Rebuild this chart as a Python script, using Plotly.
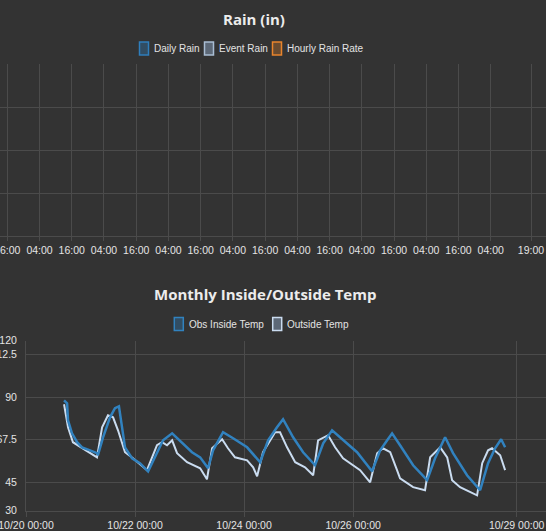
import plotly.graph_objects as go

# ---------------- data ----------------
rain_series = ["Daily Rain", "Event Rain", "Hourly Rain Rate"]
temp_series = ["Obs Inside Temp", "Outside Temp"]

rain_tick_times = [
    "2023-10-20 16:00", "2023-10-21 04:00", "2023-10-21 16:00", "2023-10-22 04:00",
    "2023-10-22 16:00", "2023-10-23 04:00", "2023-10-23 16:00", "2023-10-24 04:00",
    "2023-10-24 16:00", "2023-10-25 04:00", "2023-10-25 16:00", "2023-10-26 04:00",
    "2023-10-26 16:00", "2023-10-27 04:00", "2023-10-27 16:00", "2023-10-28 04:00",
    "2023-10-28 19:00",
]
rain_tick_labels = ["16:00", "04:00", "16:00", "04:00", "16:00", "04:00", "16:00", "04:00",
                    "16:00", "04:00", "16:00", "04:00", "16:00", "04:00", "16:00", "04:00",
                    "19:00"]

temp_tick_times = ["2023-10-20 00:00", "2023-10-22 00:00", "2023-10-24 00:00",
                   "2023-10-26 00:00", "2023-10-29 00:00"]
temp_tick_labels = ["10/20 00:00", "10/22 00:00", "10/24 00:00", "10/26 00:00", "10/29 00:00"]
temp_y_ticks = [30, 45, 67.5, 90, 112.5, 120]
temp_y_labels = ["30", "45", "67.5", "90", "112.5", "120"]

inside_time = [
    "2023-10-20 16:45", "2023-10-20 18:05", "2023-10-20 18:30", "2023-10-20 20:15", "2023-10-20 22:30",
    "2023-10-21 00:40", "2023-10-21 04:10", "2023-10-21 07:15", "2023-10-21 07:40", "2023-10-21 09:55",
    "2023-10-21 13:00", "2023-10-21 15:10", "2023-10-21 16:55", "2023-10-21 17:50", "2023-10-21 19:35",
    "2023-10-21 22:40", "2023-10-22 02:10", "2023-10-22 05:45", "2023-10-22 08:50", "2023-10-22 12:20",
    "2023-10-22 16:20", "2023-10-22 19:50", "2023-10-23 01:05", "2023-10-23 04:40", "2023-10-23 08:10",
    "2023-10-23 10:20", "2023-10-23 13:25", "2023-10-23 14:45", "2023-10-23 19:10", "2023-10-24 01:20",
    "2023-10-24 07:05", "2023-10-24 10:35", "2023-10-24 14:30", "2023-10-24 17:10", "2023-10-24 21:35",
    "2023-10-25 02:00", "2023-10-25 07:15", "2023-10-25 10:50", "2023-10-25 14:45", "2023-10-25 19:35",
    "2023-10-26 01:45", "2023-10-26 08:20", "2023-10-26 11:55", "2023-10-26 15:00", "2023-10-26 17:10",
    "2023-10-26 20:40", "2023-10-27 02:25", "2023-10-27 08:35", "2023-10-27 12:05", "2023-10-27 16:30",
    "2023-10-27 20:00", "2023-10-28 02:10", "2023-10-28 07:55", "2023-10-28 11:25", "2023-10-28 14:30",
    "2023-10-28 17:10", "2023-10-28 18:55",
]
inside_temp = [
    88.4, 86.8, 77.8, 70.9, 66.2, 63.5, 61.9, 60.4, 59.3, 68.8,
    79.4, 84.2, 85.2, 77.8, 63.5, 57.7, 55.1, 50.8, 58.2, 67.2,
    70.9, 66.7, 60.9, 58.2, 52.4, 61.9, 68.8, 71.5, 68.3, 63.5,
    55.6, 67.2, 74.1, 78.4, 68.8, 60.9, 54.0, 65.6, 72.5, 67.2,
    60.9, 50.8, 61.9, 67.2, 70.9, 64.6, 54.0, 46.1, 57.7, 68.8,
    60.4, 48.7, 40.8, 55.1, 63.0, 67.8, 63.5,
]

outside_time = [
    "2023-10-20 16:45", "2023-10-20 18:30", "2023-10-20 20:40", "2023-10-21 01:05", "2023-10-21 04:10",
    "2023-10-21 07:15", "2023-10-21 09:30", "2023-10-21 12:05", "2023-10-21 14:20", "2023-10-21 16:30",
    "2023-10-21 19:35", "2023-10-21 23:05", "2023-10-22 05:15", "2023-10-22 09:40", "2023-10-22 11:55",
    "2023-10-22 14:05", "2023-10-22 16:20", "2023-10-22 18:30", "2023-10-22 22:55", "2023-10-23 04:40",
    "2023-10-23 07:40", "2023-10-23 09:55", "2023-10-23 14:20", "2023-10-23 16:55", "2023-10-23 20:00",
    "2023-10-24 01:20", "2023-10-24 04:00", "2023-10-24 05:45", "2023-10-24 08:20", "2023-10-24 13:40",
    "2023-10-24 15:50", "2023-10-24 18:55", "2023-10-24 22:30", "2023-10-25 02:50", "2023-10-25 06:25",
    "2023-10-25 08:35", "2023-10-25 13:00", "2023-10-25 16:05", "2023-10-25 19:35", "2023-10-26 03:05",
    "2023-10-26 07:30", "2023-10-26 10:35", "2023-10-26 13:10", "2023-10-26 16:20", "2023-10-26 19:20",
    "2023-10-26 20:40", "2023-10-27 02:25", "2023-10-27 07:40", "2023-10-27 09:55", "2023-10-27 14:20",
    "2023-10-27 17:25", "2023-10-27 19:35", "2023-10-27 23:05", "2023-10-28 06:35", "2023-10-28 08:50",
    "2023-10-28 11:25", "2023-10-28 13:10", "2023-10-28 16:45", "2023-10-28 18:55",
]
outside_temp = [
    86.3, 74.1, 66.2, 63.0, 60.9, 58.2, 74.1, 80.5, 79.4, 72.5,
    60.9, 57.7, 51.4, 64.6, 66.2, 64.6, 67.2, 60.4, 55.6, 52.4,
    46.6, 63.0, 67.8, 63.0, 58.2, 56.6, 52.9, 48.2, 60.9, 71.5,
    71.5, 63.5, 55.6, 52.9, 48.7, 67.2, 69.9, 63.5, 57.7, 51.4,
    45.0, 60.4, 63.0, 60.9, 51.4, 47.1, 42.4, 40.8, 58.2, 63.5,
    58.2, 46.1, 42.4, 38.1, 55.1, 61.9, 63.0, 59.3, 51.4,
]

# ---------------- style ----------------
W, H = 546, 531
BG = "#333333"
GRID = "#4b4b4b"
TXT = "#e4e4e4"
TITLE = "#ececec"
FONT = "Liberation Sans, Arial, sans-serif"
TICKFONT = dict(family=FONT, size=10.5, color=TXT)

def px(x):
    return x / W

def py(y):
    return 1 - y / H

rain_line = ["#2f7ebc", "#a9bdd3", "#e8842c"]
rain_fill = ["rgba(47,126,188,0.35)", "rgba(120,140,165,0.6)", "rgba(232,132,44,0.3)"]
temp_line = ["#3182bf", "#cadcf0"]
temp_fill = ["rgba(47,126,188,0.35)", "rgba(120,140,165,0.6)"]

fig = go.Figure()

# rain chart (no data in the period)
for name, col in zip(rain_series, rain_line):
    fig.add_trace(go.Scatter(x=[], y=[], name=name, mode="lines",
                             line=dict(color=col), xaxis="x", yaxis="y", showlegend=False))

# temperature chart
fig.add_trace(go.Scatter(x=outside_time, y=outside_temp, name=temp_series[1], mode="lines",
                         line=dict(color=temp_line[1], width=2), xaxis="x2", yaxis="y2",
                         showlegend=False))
fig.add_trace(go.Scatter(x=inside_time, y=inside_temp, name=temp_series[0], mode="lines",
                         line=dict(color=temp_line[0], width=2.5), xaxis="x2", yaxis="y2",
                         showlegend=False))

shapes = []
annotations = []

def legend(names, lines, fills, box_x, text_x, yc):
    for n, lc, fc, bx, tx in zip(names, lines, fills, box_x, text_x):
        shapes.append(dict(type="rect", xref="paper", yref="paper",
                           x0=px(bx), x1=px(bx + 9), y0=py(yc + 6.5), y1=py(yc - 6.5),
                           line=dict(color=lc, width=1.5), fillcolor=fc, layer="above"))
        annotations.append(dict(text=n, xref="paper", yref="paper", x=px(tx), y=py(yc),
                                xanchor="left", yanchor="middle", showarrow=False,
                                font=dict(family=FONT, size=10, color=TXT)))

legend(rain_series, rain_line, rain_fill, [139.5, 204.5, 272.5], [151.5, 216.5, 284.5], 48.5)
legend(temp_series, temp_line, temp_fill, [174.3, 272.7], [186.5, 284.5], 324)

annotations.append(dict(text="<b>Rain (in)</b>", xref="paper", yref="paper", x=px(253.5), y=py(18.5),
                        xanchor="center", yanchor="middle", showarrow=False,
                        font=dict(family="Open Sans, sans-serif", size=15, color=TITLE)))
annotations.append(dict(text="<b>Monthly Inside/Outside Temp</b>", xref="paper", yref="paper",
                        x=px(265), y=py(294), xanchor="center", yanchor="middle", showarrow=False,
                        font=dict(family="Open Sans, sans-serif", size=15, color=TITLE)))

fig.update_layout(
    width=W, height=H, paper_bgcolor=BG, plot_bgcolor=BG,
    margin=dict(l=0, r=0, t=0, b=0), showlegend=False,
    shapes=shapes, annotations=annotations,
    xaxis=dict(type="date", domain=[0, 1], anchor="y",
               range=["2023-10-20 13:17", "2023-10-29 00:35"],
               tickmode="array", tickvals=rain_tick_times, ticktext=rain_tick_labels,
               tickangle=0, showgrid=True, gridcolor=GRID, gridwidth=1,
               ticks="outside", ticklen=4, tickcolor=GRID, showline=True, linecolor=GRID,
               tickfont=TICKFONT, zeroline=False, automargin=False, ticklabeloverflow="allow"),
    yaxis=dict(domain=[py(236), py(64)], anchor="x", range=[0, 1], tickmode="linear",
               tick0=0, dtick=0.25, showticklabels=False, showgrid=True, gridcolor=GRID,
               zeroline=False, showline=False, automargin=False),
    xaxis2=dict(type="date", domain=[px(26), 1], anchor="y2",
                range=["2023-10-20 00:00", "2023-10-29 12:55"],
                tickmode="array", tickvals=temp_tick_times, ticktext=temp_tick_labels,
                tickangle=0, showgrid=True, gridcolor=GRID, gridwidth=1,
                ticks="outside", ticklen=5, tickcolor=GRID, showline=True, linecolor=GRID,
                tickfont=TICKFONT, zeroline=False, automargin=False, ticklabeloverflow="allow"),
    yaxis2=dict(domain=[py(510.6), py(340.6)], anchor="x2", range=[30, 120],
                tickmode="array", tickvals=temp_y_ticks, ticktext=temp_y_labels,
                showgrid=True, gridcolor=GRID, zeroline=False, showline=True, linecolor=GRID,
                ticks="", tickfont=TICKFONT, automargin=False, ticklabelstandoff=6,
                ticklabeloverflow="allow"),
)

fig.write_html("out.html", config={"displayModeBar": False},
               post_script="document.body.style.margin='0px';document.body.style.overflow='hidden';")
